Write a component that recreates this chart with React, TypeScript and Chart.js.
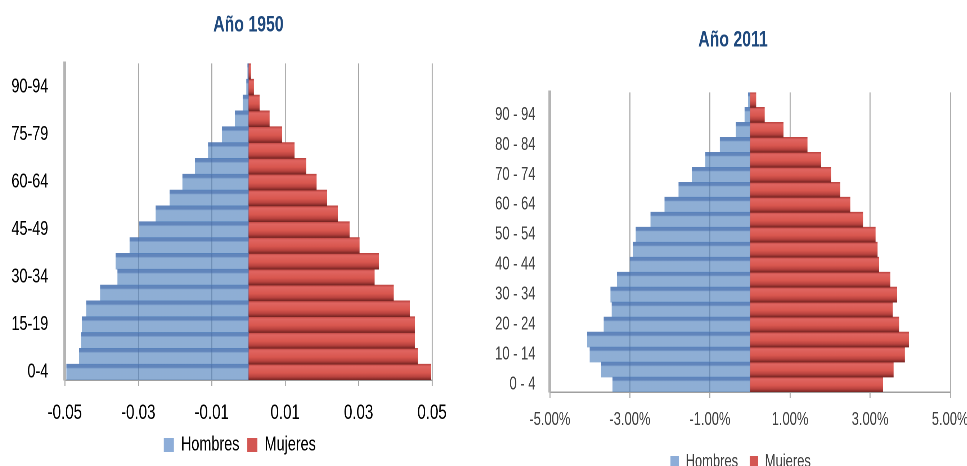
import React, { useEffect, useRef } from "react";
import { Chart, registerables } from "chart.js";

Chart.register(...registerables);

const ageGroups1950 = [
  "0-4", "5-9", "10-14", "15-19", "20-24", "25-29", "30-34", "35-39", "40-44", "45-49",
  "50-54", "55-59", "60-64", "65-69", "70-74", "75-79", "80-84", "85-89", "90-94", "95-99",
];
const hombres1950 = [
  -0.0495, -0.0461, -0.0455, -0.0453, -0.0441, -0.0403, -0.0356, -0.0361, -0.0323, -0.0297,
  -0.0252, -0.0214, -0.0179, -0.0145, -0.0109, -0.0071, -0.0036, -0.0015, -0.0005, -0.0002,
];
const mujeres1950 = [
  0.0497, 0.0461, 0.0453, 0.0453, 0.0439, 0.0395, 0.0343, 0.0355, 0.0302, 0.0275,
  0.0243, 0.0214, 0.0185, 0.0157, 0.0125, 0.0091, 0.0057, 0.003, 0.0014, 0.0006,
];

const ageGroups2011 = [
  "0 - 4", "5 - 9", "10 - 14", "15 - 19", "20 - 24", "25 - 29", "30 - 34", "35 - 39", "40 - 44", "45 - 49",
  "50 - 54", "55 - 59", "60 - 64", "65 - 69", "70 - 74", "75 - 79", "80 - 84", "85 - 89", "90 - 94", "95 - 99",
];
// percent
const hombres2011 = [
  -3.43, -3.71, -4.0, -4.06, -3.65, -3.45, -3.48, -3.32, -3.0, -2.92,
  -2.85, -2.48, -2.13, -1.78, -1.45, -1.11, -0.75, -0.35, -0.13, -0.04,
];
const mujeres2011 = [
  3.32, 3.58, 3.86, 3.96, 3.72, 3.56, 3.67, 3.5, 3.22, 3.18,
  3.13, 2.82, 2.5, 2.25, 2.02, 1.77, 1.43, 0.83, 0.36, 0.15,
];

const FONT = "'Liberation Sans', Arial, sans-serif";
const SX = 0.72; // horizontal squeeze to mimic the condensed look
const BLUE_FLAT = "#8DADD8";
const RED_FLAT = "#D35652";

function blueFill(c: any, n: number) {
  const chart = c.chart;
  const ys = chart.scales?.y;
  if (c.dataIndex === undefined || !ys || !chart.chartArea) return BLUE_FLAT;
  const yc = ys.getPixelForValue(c.dataIndex);
  const h = chart.chartArea.height / n;
  const g = chart.ctx.createLinearGradient(0, yc - h / 2, 0, yc + h / 2);
  g.addColorStop(0, "rgba(70,112,176,0.85)");
  g.addColorStop(0.2, "rgba(70,112,176,0.85)");
  g.addColorStop(0.3, "rgba(79,129,189,0.64)");
  g.addColorStop(1, "rgba(79,129,189,0.64)");
  return g;
}

function redFill(c: any, n: number) {
  const chart = c.chart;
  const ys = chart.scales?.y;
  if (c.dataIndex === undefined || !ys || !chart.chartArea) return RED_FLAT;
  const yc = ys.getPixelForValue(c.dataIndex);
  const h = chart.chartArea.height / n;
  const g = chart.ctx.createLinearGradient(0, yc - h / 2, 0, yc + h / 2);
  g.addColorStop(0, "#BE4541");
  g.addColorStop(0.15, "#E06561");
  g.addColorStop(0.55, "#D9574F");
  g.addColorStop(0.8, "#B8423E");
  g.addColorStop(1, "#782523");
  return g;
}

type Cfg = {
  title: string;
  titleShift: number;
  legendShift: number;
  labels: string[];
  men: number[];
  women: number[];
  min: number;
  max: number;
  step: number;
  fmt: (v: number) => string;
  every: number;
  yFont: number;
  xFont: number;
  xLine: number;
  legendFont: number;
  legendPad: number;
  box: { w: number; h: number };
  titlePad: { top: number; bottom: number };
  padding: { top: number; left: number; right: number; bottom: number };
  xTickPad: number;
  xHeight: number;
  yTickPad: number;
  yWidth: number;
  tickColor: string;
};

function Pyramid({ cfg, left, width }: { cfg: Cfg; left: number; width: number }) {
  const ref = useRef<HTMLCanvasElement | null>(null);
  useEffect(() => {
    if (!ref.current) return;
    const n = cfg.labels.length;
    const legendColors = [BLUE_FLAT, RED_FLAT];
    const shiftBoxes = {
      id: "shiftBoxes",
      afterLayout(chart: any) {
        const t = chart.titleBlock;
        if (t) {
          t.left += cfg.titleShift;
          t.right += cfg.titleShift;
        }
        const l = chart.legend;
        if (l) {
          l.left += cfg.legendShift;
          l.right += cfg.legendShift;
        }
      },
    };
    const chart = new Chart(ref.current, {
      type: "bar",
      data: {
        labels: cfg.labels,
        datasets: [
          {
            label: "Hombres",
            data: cfg.men,
            backgroundColor: (c: any) => blueFill(c, n),
            borderWidth: 0,
            barPercentage: 1,
            categoryPercentage: 1,
          },
          {
            label: "Mujeres",
            data: cfg.women,
            backgroundColor: (c: any) => redFill(c, n),
            borderWidth: 0,
            barPercentage: 1,
            categoryPercentage: 1,
          },
        ],
      },
      plugins: [shiftBoxes],
      options: {
        indexAxis: "y",
        animation: false,
        responsive: true,
        maintainAspectRatio: false,
        devicePixelRatio: 2,
        layout: { padding: cfg.padding },
        plugins: {
          title: {
            display: true,
            fullSize: false,
            text: cfg.title,
            color: "#1F497D",
            font: { family: FONT, size: 22, weight: "bold" },
            padding: cfg.titlePad,
          },
          legend: {
            position: "bottom",
            labels: {
              color: cfg.tickColor,
              font: { family: FONT, size: cfg.legendFont },
              boxWidth: cfg.box.w,
              boxHeight: cfg.box.h,
              padding: cfg.legendPad,
              generateLabels: (ch: any) =>
                Chart.defaults.plugins.legend.labels.generateLabels(ch).map((it: any, i: number) => ({
                  ...it,
                  fillStyle: legendColors[i],
                  strokeStyle: legendColors[i],
                  lineWidth: 0,
                })),
            },
          },
          tooltip: { enabled: false },
        },
        scales: {
          x: {
            stacked: true,
            min: cfg.min,
            max: cfg.max,
            afterFit: (s: any) => {
              s.height = cfg.xHeight;
            },
            ticks: {
              stepSize: cfg.step,
              color: cfg.tickColor,
              font: { family: FONT, size: cfg.xFont, lineHeight: cfg.xLine },
              padding: cfg.xTickPad,
              maxRotation: 0,
              callback: (v: any) => cfg.fmt(Number(v)),
            },
            grid: { color: "#A6A6A6", lineWidth: 1.4, tickLength: 6, tickColor: "#A6A6A6" },
            border: { display: true, color: "#A0A0A0", width: 1.5 },
          },
          y: {
            stacked: true,
            reverse: true,
            afterFit: (s: any) => {
              s.width = cfg.yWidth;
            },
            ticks: {
              autoSkip: false,
              color: cfg.tickColor,
              font: { family: FONT, size: cfg.yFont },
              padding: cfg.yTickPad,
              callback: (v: any, i: number) => (i % cfg.every === 0 ? cfg.labels[i] : ""),
            },
            grid: { display: false, drawTicks: false },
            border: { display: true, color: "#B4B4B4", width: 4 },
          },
        },
      },
    });
    return () => chart.destroy();
  }, []);
  return (
    <div
      style={{
        position: "absolute",
        left,
        top: 0,
        width,
        height: 466,
        transform: `scaleX(${SX})`,
        transformOrigin: "0 0",
      }}
    >
      <canvas ref={ref} />
    </div>
  );
}

const cfg1950: Cfg = {
  title: "Año 1950",
  titleShift: 0,
  legendShift: 25,
  labels: ageGroups1950,
  men: hombres1950,
  women: mujeres1950,
  min: -0.05,
  max: 0.05,
  step: 0.02,
  fmt: (v) => v.toFixed(2),
  every: 3,
  yFont: 20,
  xFont: 21,
  xLine: 1,
  legendFont: 20,
  legendPad: 11,
  box: { w: 14, h: 14 },
  titlePad: { top: 12, bottom: 25 },
  padding: { top: 0, left: 16, right: 60, bottom: 1 },
  xTickPad: 16.5,
  xHeight: 44,
  yTickPad: 23,
  yWidth: 74,
  tickColor: "#000",
};

const cfg2011: Cfg = {
  title: "Año 2011",
  titleShift: -23.6,
  legendShift: 25,
  labels: ageGroups2011,
  men: hombres2011,
  women: mujeres2011,
  min: -5,
  max: 5,
  step: 2,
  fmt: (v) => v.toFixed(2) + "%",
  every: 2,
  yFont: 18,
  xFont: 18,
  xLine: 1.2,
  legendFont: 18,
  legendPad: 16,
  box: { w: 12, h: 12 },
  titlePad: { top: 27, bottom: 39 },
  padding: { top: 0, left: 21, right: 47, bottom: -15 },
  xTickPad: 11,
  xHeight: 45,
  yTickPad: 20,
  yWidth: 76,
  tickColor: "#404040",
};

export default function App() {
  return (
    <div
      style={{
        position: "fixed",
        left: 0,
        top: 0,
        width: 967,
        height: 466,
        background: "#fff",
        overflow: "hidden",
      }}
    >
      <Pyramid cfg={cfg1950} left={0} width={660} />
      <Pyramid cfg={cfg2011} left={480} width={700} />
    </div>
  );
}
